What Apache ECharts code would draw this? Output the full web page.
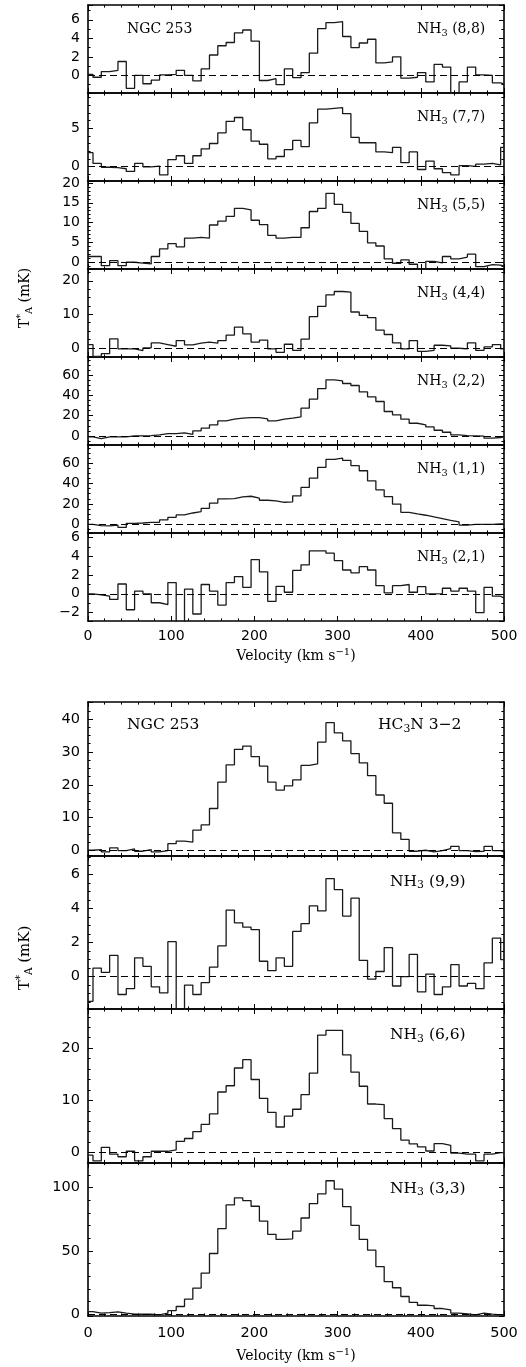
<!DOCTYPE html>
<html><head><meta charset="utf-8">
<script src="https://cdn.jsdelivr.net/npm/echarts@6/dist/echarts.min.js"></script>
<style>html,body{margin:0;padding:0;background:#fff}#c{width:526px;height:1367px}</style>
</head><body><div id="c"></div>
<script>
// Channel edges (km/s): first partial channel 0-6, then 10 km/s channels, last partial 496-500
const velocityEdges = [0];
for (let v = 6; v <= 496; v += 10) velocityEdges.push(v);
velocityEdges.push(500);

// Antenna temperatures (mK), one value per channel (51 channels)
const nh3_88 = [0.1,-0.2,0.4,0.55,1.5,-1.4,0.0,-0.9,-0.5,0.05,0.1,0.55,0.0,-0.6,0.7,2.2,3.2,3.55,4.6,4.9,3.7,-0.55,-0.35,-1.0,0.7,-0.25,0.3,2.4,5.05,5.7,5.8,4.2,3.0,3.5,3.9,1.35,1.45,2.0,-0.3,-0.2,0.3,-0.7,1.2,0.9,-2.6,-0.7,0.9,0.05,0.0,-0.8,-0.95];
const nh3_77 = [1.8,0.4,-0.1,-0.15,-0.3,-0.65,0.4,-0.05,0.05,-1.1,0.9,1.4,0.4,1.4,2.3,3.0,4.4,5.9,6.4,4.8,3.3,2.9,1.0,1.3,2.2,3.4,2.6,5.7,7.5,7.6,7.7,6.9,3.8,3.1,3.1,1.9,1.8,2.5,0.5,1.9,-0.4,0.7,-0.3,-0.8,-1.1,0.1,0.0,0.3,0.4,0.2,2.5];
const nh3_55 = [1.45,1.45,-0.85,0.4,-0.85,0,-0.2,-0.4,1.45,3.4,4.7,3.9,6.1,6.3,6.1,9.4,10.4,11.6,13.6,13.2,10.6,9.5,6.8,6.1,6.3,6.3,8.7,12.8,13.6,17.4,14.6,12.6,9.8,7.8,4.9,4.1,0.85,-0.25,0.6,-0.5,-1.9,0.2,-0.15,1.45,0.85,1.3,2.05,-1.1,-0.6,-0.7,-1.0];
const nh3_44 = [1.0,-2.5,-1.7,2.7,-0.3,-0.3,-0.8,0,1.5,1.0,0.5,2.2,0.9,1.4,1.7,1.4,2.2,3.8,6.2,4.2,1.7,2.3,-0.3,-1.3,1.1,-0.7,2.6,9.3,12.4,15.8,16.8,16.6,10.7,9.7,9.0,5.3,4.0,1.5,-0.3,2.2,-1.0,-0.7,0.8,0.6,-0.1,-0.3,1.5,-0.7,0.3,1.0,-0.3];
const nh3_22 = [-1,-2.6,-1,-1,-1,0,0,0.3,1,2.3,2.3,3,1.6,5,7.6,10.9,14.8,16.5,17.5,18.1,18.1,16.8,14.8,16.5,17.5,18.8,27.4,36.3,46.8,55.4,54.4,51.8,49.8,43.5,38.6,34,24.1,20.8,16.5,12.5,10.9,8.9,5.6,3.6,1,0.3,0,-0.3,-2.3,-1.6,-1];
const nh3_11 = [0,-1.3,-1.6,-0.7,-3,1,1.3,2,2,4.3,6.9,9.2,11.1,12.5,15.7,20.7,24.9,25.2,26.9,27.5,25.6,23.6,23,21.6,22,27.9,36.1,45.2,55.7,63.6,64.9,62.6,57.4,52.5,42.6,33.8,27.2,19.7,11.8,10.2,8.9,7.2,5.6,3.9,2.3,-0.7,0,0,0,0.3,0.3];
const nh3_21 = [0,-0.1,-0.25,-0.6,1.05,-1.7,0.3,0,-0.95,-1.15,1.2,-4,0.5,-2.15,1.0,0.3,-1.2,1.2,1.85,0.7,3.65,2.35,-0.8,0.8,0.17,2.5,3.1,4.6,4.6,4.35,3.55,2.55,2.25,2.9,2.55,0.87,0.1,0.87,1.0,0.17,0.77,0,0.03,0.6,0.3,0.6,0.3,-2.0,0.7,-0.25,-0.45];
const hc3n_32 = [0.1,0.3,-0.4,0.8,0,0.5,-0.2,0.3,-0.4,0,2.1,2.9,2.6,6.2,7.8,12.8,20.8,26.1,30.8,31.8,28.6,25.7,20.8,18.4,19.7,21.5,25.9,26.4,33,38.9,35.8,33.4,29.5,26.7,22.8,16.9,14.4,5.4,3.4,-0.2,0.1,-0.4,0,0.6,1.3,0,-0.3,-0.2,1.3,0,-0.4];
const nh3_99 = [-1.45,0.5,0.25,1.25,-1.05,-0.7,1.1,0.6,-0.6,-0.95,2.05,-3,-0.5,-1.05,-0.35,0.55,1.8,3.9,3.15,2.9,2.75,0.9,0.35,1.1,0.6,2.65,3.1,4.15,3.85,5.75,5.1,3.55,4.6,0.95,-0.15,0.3,1.7,-0.55,0,1.3,-0.9,0.15,-1.05,-0.6,0.7,-0.55,-0.4,-0.7,0.8,2.25,1.0];
const nh3_66 = [-0.5,-1.6,1.0,-0.3,-0.8,0.25,-1.6,-0.8,0.25,0.25,0.5,2.15,2.7,4.0,5.4,7.4,11.6,12.8,16.2,17.8,14,10.4,7.7,4.9,7.0,8.3,11.1,15.2,22.5,23.4,23.4,18.7,15.4,12.7,9.3,9.2,6.5,4.6,2.4,1.65,1.1,0.3,1.7,1.4,-0.1,-0.3,-0.3,-1.6,-0.3,0,0];
const nh3_33 = [2.1,0.8,1.3,1.9,0.8,0,0,0,-0.5,0.8,2.9,6.1,11.9,20.6,32.5,47.9,67.5,86.2,91.8,89.7,85.2,73.5,63,59,59.5,65.6,75.9,87.3,95,105.3,98.7,84.9,70.1,59,50.5,37.6,25.7,20.9,14,9.3,7.1,6.6,4.5,3.4,0.8,0.3,-0.5,0.8,0,-0.5,-0.5];

// Panel labels
const lineNames = ['(8,8)','(7,7)','(5,5)','(4,4)','(2,2)','(1,1)','(2,1)','HC3N','(9,9)','(6,6)','(3,3)'];
const velocityTicks = [0, 100, 200, 300, 400, 500];

const panels = [
  {d: nh3_88, g:0, min:-1.9, max:7.6, iv:2, mn:2, name:'(8,8)'},
  {d: nh3_77, g:0, min:-1.9, max:9.6, iv:5, mn:5, name:'(7,7)'},
  {d: nh3_55, g:0, min:-1.7, max:20.5, iv:5, mn:5, name:'(5,5)'},
  {d: nh3_44, g:0, min:-2.7, max:23.5, iv:10, mn:4, name:'(4,4)'},
  {d: nh3_22, g:0, min:-9, max:78, iv:20, mn:4, name:'(2,2)'},
  {d: nh3_11, g:0, min:-8.5, max:77.7, iv:20, mn:4, name:'(1,1)'},
  {d: nh3_21, g:0, min:-2.9, max:6.5, iv:2, mn:2, name:'(2,1)'},
  {d: hc3n_32, g:1, min:-1.5, max:45.2, iv:10, mn:4, name:'HC3N'},
  {d: nh3_99, g:1, min:-1.9, max:7.1, iv:2, mn:4, name:'(9,9)'},
  {d: nh3_66, g:1, min:-1.9, max:27.5, iv:10, mn:5, name:'(6,6)'},
  {d: nh3_33, g:1, min:-1.4, max:119.7, iv:50, mn:5, name:'(3,3)'}
];

const SERIF = 'DejaVu Serif';
const SANS = 'DejaVu Sans';
const GL = 88, GW = 416;
const grids = [], xAxes = [], yAxes = [], series = [], graphics = [];
const fmt = v => String(v).replace('-', '\u2212');

panels.forEach((p, i) => {
  let top, h, isBottom;
  if (p.g === 0) { top = 5 + 88 * i; h = 88; isBottom = (i === 6); }
  else { const k = i - 7; top = 702 + 153.5 * k; h = 153.5; isBottom = (k === 3); }
  p.top = top; p.h = h;
  grids.push({left: GL, width: GW, top: top, height: h, show: false});
  const axLine = {show: true, onZero: false, lineStyle: {color: '#000', width: 1.6}};
  const tickX = {inside: true, length: 5, lineStyle: {color: '#000', width: 1}};
  const minorX = {show: true, splitNumber: 5, length: 2.6, lineStyle: {color: '#000', width: 1}};
  const fsTick = p.g === 0 ? 14 : 14.5;
  const xBase = {type: 'value', gridIndex: i, min: velocityTicks[0], max: velocityTicks[velocityTicks.length-1], interval: 100,
    axisLine: axLine, axisTick: tickX, minorTick: minorX, splitLine: {show: false}};
  xAxes.push(Object.assign({}, xBase, {position: 'bottom',
    axisLabel: {show: isBottom, color: '#000', fontFamily: SANS, fontSize: fsTick, margin: p.g === 0 ? 8 : 10},
    name: isBottom ? '{a|Velocity (km s}{s|\u22121}{a|)}' : '', nameLocation: 'middle', nameGap: p.g === 0 ? 26 : 31,
    nameTextStyle: {color: '#000', fontFamily: SERIF, fontSize: 14,
      rich: {a: {fontFamily: SERIF, fontSize: 14, color: '#000'}, s: {fontFamily: SERIF, fontSize: 10, color: '#000', padding: [0, 0, 9, 0]}}}}));
  xAxes.push(Object.assign({}, xBase, {position: 'top', axisLabel: {show: false}}));
  const yBase = {type: 'value', gridIndex: i, min: p.min, max: p.max, minInterval: p.iv, maxInterval: p.iv,
    axisLine: axLine, axisTick: {inside: true, length: 5, lineStyle: {color: '#000', width: 1}},
    minorTick: {show: true, splitNumber: p.mn, length: 2.6, lineStyle: {color: '#000', width: 1}},
    splitLine: {show: false}};
  yAxes.push(Object.assign({}, yBase, {position: 'left',
    axisLabel: {show: true, showMinLabel: false, showMaxLabel: false, color: '#000', fontFamily: SANS, fontSize: fsTick, margin: 8, formatter: fmt}}));
  yAxes.push(Object.assign({}, yBase, {position: 'right', axisLabel: {show: false}}));
  const data = p.d.map((y, j) => [velocityEdges[j], y]);
  data.push([velocityEdges[velocityEdges.length - 1], p.d[p.d.length - 1]]);
  series.push({type: 'line', xAxisIndex: 2 * i, yAxisIndex: 2 * i, data: data, step: 'end',
    symbol: 'none', showSymbol: false, clip: true, animation: false, silent: true,
    lineStyle: {color: '#1a1a1a', width: 1.3},
    markLine: {silent: true, symbol: 'none', animation: false, label: {show: false},
      lineStyle: {type: [7, 4], color: '#000', width: 1}, data: [{yAxis: 0}]}});
  // panel label
  const fs = p.g === 0 ? 14 : 15.5;
  const rich = {a: {fontFamily: SERIF, fontSize: fs, fill: '#000'}, s: {fontFamily: SERIF, fontSize: fs * 0.7, fill: '#000', padding: [8, 0, 0, 0]}};
  let txt, lx, ly;
  if (p.name === 'HC3N') { txt = '{a|HC}{s|3}{a|N 3\u22122}'; lx = 378; ly = top + 23; }
  else { txt = '{a|NH}{s|3}{a| ' + p.name + '}'; lx = p.g === 0 ? 417 : 390; ly = top + (p.g === 0 ? 24 : 26); }
  graphics.push({type: 'text', x: lx, y: ly, silent: true, style: {text: txt, rich: rich, align: 'left', verticalAlign: 'middle', fill: '#000'}});
  if (i === 0 || i === 7) {
    graphics.push({type: 'text', x: 127, y: top + (i === 0 ? 24 : 23), silent: true,
      style: {text: 'NGC 253', fontFamily: SERIF, fontSize: fs, fill: '#000', align: 'left', verticalAlign: 'middle'}});
  }
});

// y-axis titles
[[25, 298, 14], [25, 958, 15]].forEach(([x, y, fs]) => {
  graphics.push({type: 'text', x: x, y: y, rotation: Math.PI / 2, silent: true,
    style: {text: '{a|T}{u|*}{s|A}{a| (mK)}', align: 'center', verticalAlign: 'middle',
      rich: {a: {fontFamily: SERIF, fontSize: fs, fill: '#000'},
             u: {fontFamily: SERIF, fontSize: fs * 0.7, fill: '#000', padding: [0, 0, 10, 0]},
             s: {fontFamily: SERIF, fontSize: fs * 0.7, fill: '#000', padding: [8, 0, 0, 0]}}}});
});

const chart = echarts.init(document.getElementById('c'), null, {renderer: 'canvas'});
chart.setOption({animation: false, backgroundColor: '#fff', grid: grids, xAxis: xAxes, yAxis: yAxes, series: series, graphic: graphics});
</script></body></html>
